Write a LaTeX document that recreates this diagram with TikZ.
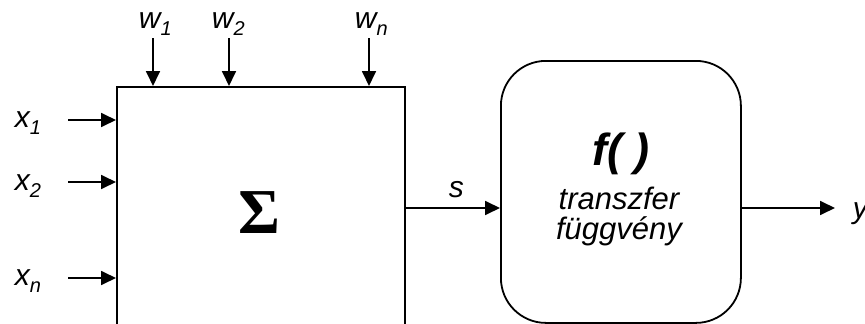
\documentclass[tikz,border=0pt]{standalone}
\usepackage{fontspec}
\setmainfont{Liberation Sans}
\newfontfamily\sigmafont{Liberation Serif}
\usetikzlibrary{arrows.meta}
\newcommand{\sbs}[1]{\raisebox{-7pt}{\fontsize{20}{22}\selectfont #1}}
\begin{document}
\begin{tikzpicture}[x=1pt,y=-1pt,
  line width=1.8pt,
  conn/.style={line width=1.8pt,-{Triangle[length=15pt,width=14pt]}},
  lbl/.style={font=\fontsize{30}{32}\selectfont\itshape, inner sep=0pt, anchor=base west},
  ctext/.style={font=\fontsize{31}{33}\selectfont\itshape, inner sep=0pt, anchor=base},
  block/.style={draw, line width=1.8pt, inner sep=0pt, anchor=north west}]
\useasboundingbox (0,0) rectangle (865,324);
\clip (0,0) rectangle (865,324);
% summing block (cut off at bottom)
\node[block, minimum width=288pt, minimum height=270pt] (sum) at (116,86) {};
\node[inner sep=0pt, anchor=base, font=\fontsize{64}{66}\selectfont\sigmafont\bfseries] (sigma) at (259,233) {Σ};
% transfer block
\node[block, rounded corners=45pt, minimum width=240pt, minimum height=262pt] (f) at (500,60) {};
\node[inner sep=0pt, anchor=base, font=\fontsize{45}{47}\selectfont\bfseries\itshape] (fname) at (621,165) {f( )};
\node[ctext] (t1) at (619,209) {transzfer};
\node[ctext] (t2) at (619,239) {függvény};
% weights
\coordinate (w1s) at (153,38);
\coordinate (w2s) at (229,38);
\coordinate (wns) at (369,38);
\draw[conn] (w1s) -- (w1s |- sum.north);
\draw[conn] (w2s) -- (w2s |- sum.north);
\draw[conn] (wns) -- (wns |- sum.north);
\node[lbl] (w1) at (138,28) {w\sbs{1}};
\node[lbl] (w2) at (211,28) {w\sbs{2}};
\node[lbl] (wn) at (354,28) {w\sbs{n}};
% inputs
\coordinate (x1s) at (68,120);
\coordinate (x2s) at (68,182);
\coordinate (xns) at (68,278);
\draw[conn] (x1s) -- (x1s -| sum.west);
\draw[conn] (x2s) -- (x2s -| sum.west);
\draw[conn] (xns) -- (xns -| sum.west);
\node[lbl] (x1) at (14,127) {x\sbs{1}};
\node[lbl] (x2) at (14,190) {x\sbs{2}};
\node[lbl] (xn) at (14,285) {x\sbs{n}};
% s
\coordinate (sout) at (404,208);
\draw[conn] (sout) -- (sout -| f.west);
\node[lbl] (s) at (448,197) {s};
% output
\coordinate (yout) at (740,208);
\coordinate (yend) at (835,208);
\draw[conn] (yout) -- (yend);
\node[lbl] (y) at (852,218) {y};
\end{tikzpicture}
\end{document}
